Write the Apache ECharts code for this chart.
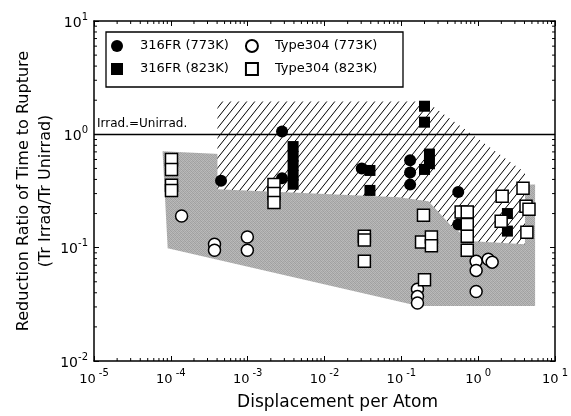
<!DOCTYPE html>
<html>
<head>
<meta charset="utf-8">
<script src="https://cdn.jsdelivr.net/npm/echarts@6.0.0/dist/echarts.min.js"></script>
<style>html,body{margin:0;padding:0;background:#fff}#chart{width:571px;height:416px}</style>
</head>
<body>
<div id="chart"></div>
<script>
// 316FR (773K) - filled circles
var fr773X = [4.5e-4, 2.8e-3, 2.8e-3, 0.0305, 0.13, 0.13, 0.13, 0.55, 0.55];
var fr773Y = [0.39, 1.06, 0.41, 0.50, 0.59, 0.46, 0.36, 0.31, 0.16];
// 316FR (823K) - filled squares
var fr823X = [3.9e-3, 3.9e-3, 3.9e-3, 3.9e-3, 3.9e-3, 0.039, 0.039, 0.2, 0.2, 0.232, 0.232, 0.2, 2.4, 2.4];
var fr823Y = [0.78, 0.64, 0.53, 0.435, 0.363, 0.48, 0.32, 1.77, 1.28, 0.67, 0.55, 0.49, 0.20, 0.14];
// Type304 (773K) - open circles
var t773X = [1.38e-4, 3.7e-4, 3.7e-4, 9.9e-4, 9.9e-4, 0.162, 0.162, 0.162, 0.94, 0.94, 0.94, 1.35, 1.52];
var t773Y = [0.19, 0.107, 0.095, 0.124, 0.095, 0.043, 0.037, 0.0325, 0.076, 0.063, 0.041, 0.079, 0.0745];
// Type304 (823K) - open squares
var t823X = [1.02e-4, 1.02e-4, 1.02e-4, 1.02e-4, 2.2e-3, 2.2e-3, 2.2e-3, 0.033, 0.033, 0.033,
             0.194, 0.183, 0.246, 0.246, 0.2, 0.60, 0.72, 0.72, 0.72, 0.72, 2.05, 1.99, 3.83, 4.19, 4.58, 4.3];
var t823Y = [0.60, 0.49, 0.355, 0.32, 0.36, 0.30, 0.25, 0.126, 0.117, 0.076,
             0.193, 0.112, 0.124, 0.104, 0.052, 0.206, 0.206, 0.16, 0.126, 0.095, 0.284, 0.171, 0.334, 0.232, 0.218, 0.137];

// scatter band (stippled) and 316FR band (hatched)
var grayX = [7.8e-5, 4.3e-4, 4.3e-4, 5.5, 5.5, 0.167, 9.1e-5];
var grayY = [0.71, 0.67, 0.33, 0.36, 0.0305, 0.0305, 0.099];
var hatchX = [4.04e-4, 0.21, 4.06, 4.06, 0.86, 0.47, 0.225, 0.092, 4.04e-4];
var hatchY = [1.95, 1.95, 0.46, 0.107, 0.114, 0.15, 0.257, 0.279, 0.327];

var X_MIN = 1e-5, X_MAX = 10, Y_MIN = 1e-2, Y_MAX = 10;
var FONT = 'DejaVu Sans';

function pairs(xs, ys) {
	var out = [];
	for (var i = 0; i < xs.length; i++) out.push([xs[i], ys[i]]);
	return out;
}

// minor tick positions 2..9 x 10^k
var xMinor = [], yMinor = [];
for (var k = -5; k < 1; k++) for (var m = 2; m < 10; m++) xMinor.push(m * Math.pow(10, k));
for (var k = -2; k < 1; k++) for (var m = 2; m < 10; m++) yMinor.push(m * Math.pow(10, k));

function makeHatch() {
	var c = document.createElement('canvas');
	c.width = 8; c.height = 10;
	var ctx = c.getContext('2d');
	ctx.fillStyle = '#fff';
	ctx.fillRect(0, 0, 8, 10);
	ctx.strokeStyle = '#000';
	ctx.lineWidth = 1;
	for (var dx = -8; dx <= 8; dx += 8) {
		ctx.beginPath();
		ctx.moveTo(dx, 10);
		ctx.lineTo(dx + 8, 0);
		ctx.stroke();
	}
	return c;
}

function makeStipple() {
	var c = document.createElement('canvas');
	c.width = 4; c.height = 4;
	var ctx = c.getContext('2d');
	var cols = ['#a2a2a2', '#b8b8b8', '#a8a8a8', '#bcbcbc',
	            '#b2b2b2', '#9e9e9e', '#bababa', '#a6a6a6',
	            '#a9a9a9', '#bdbdbd', '#a0a0a0', '#b5b5b5',
	            '#b9b9b9', '#a5a5a5', '#b6b6b6', '#9f9f9f'];
	for (var i = 0; i < 16; i++) {
		ctx.fillStyle = cols[i];
		ctx.fillRect(i % 4, Math.floor(i / 4), 1, 1);
	}
	return c;
}

var hatchImg = makeHatch();
var stippleImg = makeStipple();

function polygonSeries(xs, ys, fillImg, z) {
	return {
		type: 'custom',
		coordinateSystem: 'cartesian2d',
		silent: true,
		z: z,
		data: [[xs[0], ys[0]]],
		renderItem: function (params, api) {
			var pts = [];
			for (var i = 0; i < xs.length; i++) pts.push(api.coord([xs[i], ys[i]]));
			return {
				type: 'polygon',
				shape: { points: pts },
				style: { fill: { image: fillImg, repeat: 'repeat' }, stroke: null }
			};
		}
	};
}

function powLabel(v) {
	var e = Math.round(Math.log10(v));
	return '{b|10}{e|' + e + '}';
}

var chart = echarts.init(document.getElementById('chart'));

var axisLine = { lineStyle: { color: '#000', width: 1.5 } };
var tick = { inside: true, length: 5, lineStyle: { color: '#000', width: 1 } };
var richX = {
	b: { fontSize: 13, fontFamily: FONT, color: '#000', lineHeight: 18, verticalAlign: 'bottom' },
	e: { fontSize: 10, fontFamily: FONT, color: '#000', lineHeight: 18, verticalAlign: 'top', padding: [0, 0, 0, 3] }
};
var richY = {
	b: { fontSize: 14, fontFamily: FONT, color: '#000', lineHeight: 18, verticalAlign: 'bottom' },
	e: { fontSize: 10, fontFamily: FONT, color: '#000', lineHeight: 18, verticalAlign: 'top' }
};

var legendText = { fontFamily: FONT, fontSize: 13, color: '#000', width: 100, padding: [0, 0, 0, 12] };

option = {
	animation: false,
	backgroundColor: '#fff',
	grid: { left: 94, right: 15, top: 21, bottom: 54 },
	xAxis: [
		{
			type: 'log', logBase: 10, min: X_MIN, max: X_MAX, splitNumber: 6, position: 'bottom',
			axisLine: axisLine, axisTick: tick, splitLine: { show: false },
			axisLabel: { formatter: powLabel, margin: 7, rich: richX },
			name: 'Displacement per Atom', nameLocation: 'middle', nameGap: 33, nameMoveOverlap: false,
			nameTextStyle: { fontFamily: FONT, fontSize: 17, color: '#000', padding: [0, 0, 0, 26] }
		},
		{
			type: 'log', logBase: 10, min: X_MIN, max: X_MAX, splitNumber: 6, position: 'top',
			axisLine: axisLine, axisTick: tick, splitLine: { show: false }, axisLabel: { show: false }
		}
	],
	yAxis: [
		{
			type: 'log', logBase: 10, min: Y_MIN, max: Y_MAX, splitNumber: 3, position: 'left',
			axisLine: axisLine, axisTick: tick, splitLine: { show: false },
			axisLabel: { formatter: powLabel, margin: 6, rich: richY },
			name: 'Reduction Ratio of Time to Rupture\n(Tr Irrad/Tr Unirrad)', nameLocation: 'middle', nameGap: 37,
			nameMoveOverlap: false,
			nameTextStyle: { fontFamily: FONT, fontSize: 16, color: '#000', lineHeight: 22 }
		},
		{
			type: 'log', logBase: 10, min: Y_MIN, max: Y_MAX, splitNumber: 3, position: 'right',
			axisLine: axisLine, axisTick: tick, splitLine: { show: false }, axisLabel: { show: false }
		}
	],
	legend: [
		{
			data: ['316FR (773K)', 'Type304 (773K)'], left: 111, top: 39, padding: 0,
			itemWidth: 12, itemHeight: 12, itemGap: 16, selectedMode: false, textStyle: legendText
		},
		{
			data: ['316FR (823K)', 'Type304 (823K)'], left: 111, top: 62, padding: 0,
			itemWidth: 12, itemHeight: 12, itemGap: 16, selectedMode: false, textStyle: legendText
		}
	],
	graphic: [
		{ type: 'rect', shape: { x: 106, y: 32, width: 297, height: 55 }, style: { fill: 'none', stroke: '#000', lineWidth: 1.3 }, z: 100 }
	],
	series: [
		polygonSeries(grayX, grayY, stippleImg, 1),
		polygonSeries(hatchX, hatchY, hatchImg, 2),
		{
			type: 'line', data: [], z: 3, silent: true,
			markLine: {
				symbol: 'none', silent: true,
				data: [{ yAxis: 1 }],
				lineStyle: { color: '#000', type: 'solid', width: 1.3 },
				label: { show: true, position: 'insideStartTop', formatter: 'Irrad.=Unirrad.', distance: [3, 4],
					fontFamily: FONT, fontSize: 12, color: '#000' }
			}
		},
		{
			name: '316FR (773K)', type: 'scatter', symbol: 'circle', symbolSize: 12, z: 5,
			itemStyle: { color: '#000', opacity: 1 }, data: pairs(fr773X, fr773Y)
		},
		{
			name: '316FR (823K)', type: 'scatter', symbol: 'rect', symbolSize: 11, z: 5,
			itemStyle: { color: '#000', opacity: 1 }, data: pairs(fr823X, fr823Y)
		},
		{
			name: 'Type304 (773K)', type: 'scatter', symbol: 'circle', symbolSize: 12, z: 5,
			itemStyle: { color: '#fff', borderColor: '#000', borderWidth: 1.5, opacity: 1 }, data: pairs(t773X, t773Y)
		},
		{
			name: 'Type304 (823K)', type: 'scatter', symbol: 'rect', symbolSize: 12, z: 5,
			itemStyle: { color: '#fff', borderColor: '#000', borderWidth: 1.5, opacity: 1 }, data: pairs(t823X, t823Y)
		},
		{
			type: 'custom', coordinateSystem: 'cartesian2d', silent: true, z: 6,
			data: xMinor.map(function (v) { return [v, Y_MIN]; }),
			renderItem: function (params, api) {
				var v = api.value(0);
				var b = api.coord([v, Y_MIN]), t = api.coord([v, Y_MAX]);
				var st = { stroke: '#000', lineWidth: 1 };
				return { type: 'group', children: [
					{ type: 'line', shape: { x1: b[0], y1: b[1], x2: b[0], y2: b[1] - 3 }, style: st },
					{ type: 'line', shape: { x1: t[0], y1: t[1], x2: t[0], y2: t[1] + 3 }, style: st }
				] };
			}
		},
		{
			type: 'custom', coordinateSystem: 'cartesian2d', silent: true, z: 6,
			data: yMinor.map(function (v) { return [X_MIN, v]; }),
			renderItem: function (params, api) {
				var v = api.value(1);
				var l = api.coord([X_MIN, v]), r = api.coord([X_MAX, v]);
				var st = { stroke: '#000', lineWidth: 1 };
				return { type: 'group', children: [
					{ type: 'line', shape: { x1: l[0], y1: l[1], x2: l[0] + 3, y2: l[1] }, style: st },
					{ type: 'line', shape: { x1: r[0], y1: r[1], x2: r[0] - 3, y2: r[1] }, style: st }
				] };
			}
		}
	]
};

chart.setOption(option);
</script>
</body>
</html>
